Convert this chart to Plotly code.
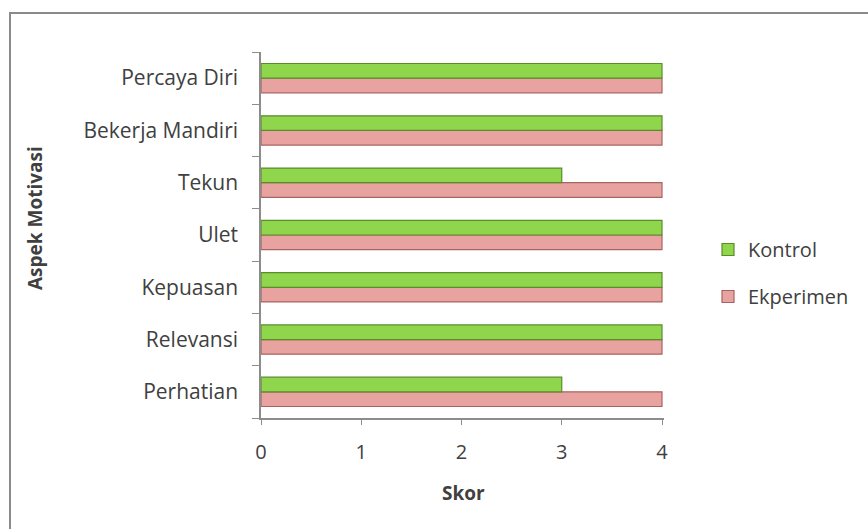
import plotly.graph_objects as go

categories = ["Perhatian", "Relevansi", "Kepuasan", "Ulet", "Tekun", "Bekerja Mandiri", "Percaya Diri"]
kontrol = [3, 4, 4, 4, 3, 4, 4]
ekperimen = [4, 4, 4, 4, 4, 4, 4]
x_ticks = [0, 1, 2, 3, 4]

font_family = "'Open Sans', Lato, sans-serif"
axis_color = "#8c8c8c"
text_color = "#404040"

fig = go.Figure()
fig.add_trace(go.Bar(
    y=categories, x=ekperimen, name="Ekperimen", orientation="h", legendgroup="e", legendrank=2,
    marker=dict(color="#E8A3A1", line=dict(color="#A86462", width=1.2)),
))
fig.add_trace(go.Bar(
    y=categories, x=kontrol, name="Kontrol", orientation="h", legendgroup="k", legendrank=1,
    marker=dict(color="#8FD64C", line=dict(color="#5B8C2A", width=1.2)),
))

W, H = 868, 529
L, R, T, B = 261, 664, 52, 418
pw, ph = R - L, B - T

def px(x):
    return (x - L) / pw

def py(y):
    return (B - y) / ph

fig.add_shape(type="rect", xref="paper", yref="paper",
              x0=px(10), x1=px(875), y0=py(535), y1=py(13),
              line=dict(color="#8a8a8a", width=2), fillcolor="rgba(0,0,0,0)", layer="below")

fig.add_annotation(xref="paper", yref="paper", x=px(463), y=py(493), text="<b>Skor</b>",
                   showarrow=False, xanchor="center", yanchor="middle",
                   font=dict(size=19, color=text_color, family=font_family))
fig.add_annotation(xref="paper", yref="paper", x=px(35), y=py(218), text="<b>Aspek Motivasi</b>",
                   showarrow=False, xanchor="center", yanchor="middle", textangle=-90,
                   font=dict(size=19, color=text_color, family=font_family))

fig.update_layout(
    width=W, height=H,
    margin=dict(l=L, r=W - R, t=T, b=H - B, pad=0),
    paper_bgcolor="white", plot_bgcolor="white",
    barmode="group", bargap=0.44, bargroupgap=0.0,
    font=dict(family=font_family, size=20, color=text_color),
    showlegend=True,
    legend=dict(x=px(708), y=py(230), xanchor="left", yanchor="top",
                traceorder="grouped", font=dict(size=20, color=text_color),
                itemwidth=30, tracegroupgap=18, bgcolor="rgba(0,0,0,0)"),
    xaxis=dict(range=[0, 4.02], tickvals=x_ticks, ticktext=[str(v) for v in x_ticks],
               showgrid=False, zeroline=False, showline=True, linecolor=axis_color, linewidth=1.5,
               ticks="outside", ticklen=5, tickcolor=axis_color, ticklabelstandoff=10,
               tickfont=dict(size=20)),
    yaxis=dict(showgrid=False, zeroline=False, showline=True, linecolor=axis_color, linewidth=1.5,
               ticks="outside", ticklen=7, tickcolor=axis_color, tickson="boundaries",
               ticklabelstandoff=17, tickfont=dict(size=21)),
)

fig.write_html("out.html")
